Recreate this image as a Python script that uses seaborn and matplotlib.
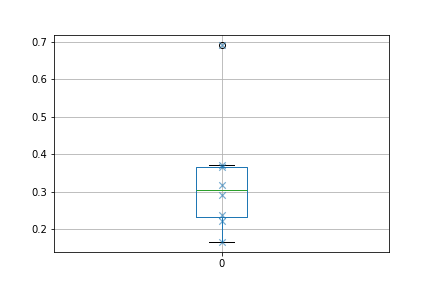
import matplotlib
matplotlib.use("Agg")
import matplotlib.pyplot as plt
import seaborn as sns
import pandas as pd

# data
values = [0.165, 0.221, 0.238, 0.291, 0.318, 0.365, 0.371, 0.690]
column_labels = ["0"]

df = pd.DataFrame({"col": column_labels * len(values), "value": values})

fig, ax = plt.subplots(figsize=(6, 4), dpi=72)
fig.subplots_adjust(left=0.125, right=0.901, bottom=0.124, top=0.877)

sns.boxplot(data=df, x="col", y="value", ax=ax, width=0.15, fill=False,
            color="C0", linewidth=1.0, whis=1.5,
            flierprops=dict(marker="o", markeredgecolor="black",
                            markerfacecolor="none", markersize=6),
            zorder=2)

bp = ax.containers[0]
for ln in bp.medians:
    ln.set_color("C2")
for ln in bp.caps:
    ln.set_color("black")
for ln in bp.fliers:
    ln.set_markeredgecolor("black")

sns.stripplot(data=df, x="col", y="value", ax=ax, jitter=False, marker="x",
              color="C0", size=6.5, linewidth=1.2, alpha=0.6, zorder=3)

ax.set_xlim(-0.5, 0.5)
ax.set_xticks([0])
ax.set_xticklabels(column_labels)
ax.set_xlabel("")
ax.set_ylabel("")
ax.grid(True, color="#b0b0b0", linewidth=0.8)
ax.set_axisbelow(True)

fig.savefig("out.png", dpi=72)
